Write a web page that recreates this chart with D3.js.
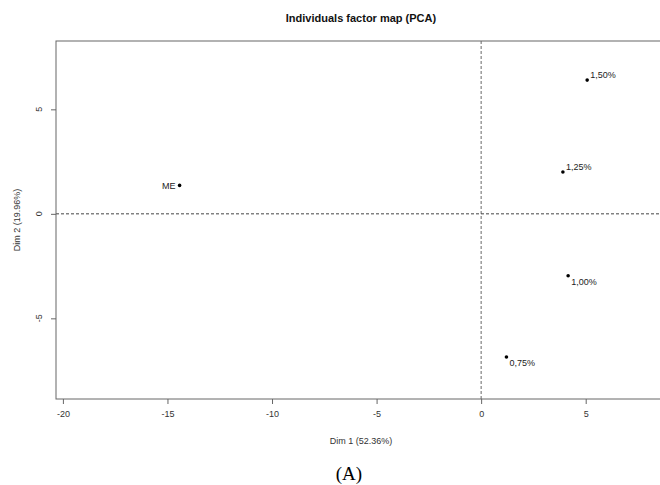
<!DOCTYPE html>
<html>
<head>
<meta charset="utf-8">
<script src="https://cdn.jsdelivr.net/npm/d3@7"></script>
<style>
  body { margin: 0; background: #fff; }
  text { font-family: "Liberation Sans", Arial, sans-serif; }
  text.caption { font-family: "Liberation Serif", "Times New Roman", serif; }
</style>
</head>
<body>
<div id="chart"></div>
<script>
// individuals and their PCA coordinates
var individuals = ["ME", "0,75%", "1,00%", "1,25%", "1,50%"];
var dim1 = [-14.42, 1.21, 4.16, 3.91, 5.07];
var dim2 = [1.36, -6.85, -2.96, 2.0, 6.4];

var xTicks = [-20, -15, -10, -5, 0, 5];
var yTicks = [-5, 0, 5];

var width = 660,
  height = 485;

var margin = { top: 41, right: -6, bottom: 86, left: 56 };

var svg = d3
  .select("#chart")
  .append("svg")
  .attr("width", width)
  .attr("height", height);

// scales (plot box runs off the right edge, like the original)
var x = d3
  .scaleLinear()
  .domain([-20.33, 8.84])
  .range([margin.left, width - margin.right]);
var y = d3
  .scaleLinear()
  .domain([-8.86, 8.27])
  .range([height - margin.bottom, margin.top]);

var plotW = width - margin.right - margin.left,
  plotH = height - margin.bottom - margin.top;

// title
svg
  .append("text")
  .attr("x", margin.left + plotW / 2)
  .attr("y", 22)
  .attr("text-anchor", "middle")
  .attr("font-size", 11)
  .attr("font-weight", "bold")
  .attr("fill", "#111")
  .text("Individuals factor map (PCA)");

// reference lines
svg
  .append("line")
  .attr("x1", x(0))
  .attr("x2", x(0))
  .attr("y1", margin.top)
  .attr("y2", margin.top + plotH)
  .attr("stroke", "#666")
  .attr("stroke-dasharray", "3,2");

svg
  .append("line")
  .attr("x1", margin.left)
  .attr("x2", margin.left + plotW)
  .attr("y1", y(0))
  .attr("y2", y(0))
  .attr("stroke", "#444")
  .attr("stroke-dasharray", "3,2");

// frame
svg
  .append("rect")
  .attr("x", margin.left)
  .attr("y", margin.top)
  .attr("width", plotW)
  .attr("height", plotH)
  .attr("fill", "none")
  .attr("stroke", "#666");

// x axis (plain hyphen for negatives, as in R)
var xAxis = d3
  .axisBottom(x)
  .tickValues(xTicks)
  .tickSize(5)
  .tickPadding(7)
  .tickFormat((d) => String(d));
svg
  .append("g")
  .attr("transform", "translate(0," + (margin.top + plotH) + ")")
  .call(xAxis)
  .call((g) => g.select(".domain").remove())
  .call((g) => g.selectAll(".tick line").attr("stroke", "#666"))
  .call((g) =>
    g
      .selectAll(".tick text")
      .attr("font-size", 9)
      .attr("fill", "#333")
      .attr("font-family", "Liberation Sans, Arial, sans-serif")
  );

// y axis, labels turned parallel to the axis
var yAxis = d3.axisLeft(y).tickValues(yTicks).tickSize(5).tickFormat("");
svg
  .append("g")
  .attr("transform", "translate(" + margin.left + ",0)")
  .call(yAxis)
  .call((g) => g.select(".domain").remove())
  .call((g) => g.selectAll(".tick line").attr("stroke", "#666"));

svg
  .selectAll(".ylab")
  .data(yTicks)
  .join("text")
  .attr("class", "ylab")
  .attr("transform", (d) => "translate(42," + y(d) + ") rotate(-90)")
  .attr("text-anchor", "middle")
  .attr("font-size", 9)
  .attr("fill", "#333")
  .text((d) => String(d));

// axis titles
svg
  .append("text")
  .attr("x", margin.left + plotW / 2)
  .attr("y", 444)
  .attr("text-anchor", "middle")
  .attr("font-size", 9)
  .attr("fill", "#333")
  .text("Dim 1 (52.36%)");

svg
  .append("text")
  .attr(
    "transform",
    "translate(20," + (margin.top + plotH / 2) + ") rotate(-90)"
  )
  .attr("text-anchor", "middle")
  .attr("font-size", 9)
  .attr("fill", "#333")
  .text("Dim 2 (19.96%)");

// points
var points = individuals.map((name, i) => ({ name: name, x: dim1[i], y: dim2[i] }));

svg
  .selectAll("circle.ind")
  .data(points)
  .join("circle")
  .attr("class", "ind")
  .attr("cx", (d) => x(d.x))
  .attr("cy", (d) => y(d.y))
  .attr("r", 1.8)
  .attr("fill", "#000");

// label placement: left of point, above-right or below-right
function labelSide(d) {
  if (d.x < 0) return "left";
  return d.y > 0 ? "up" : "down";
}

svg
  .selectAll("text.indlab")
  .data(points)
  .join("text")
  .attr("class", "indlab")
  .attr("x", (d) => (labelSide(d) == "left" ? x(d.x) - 4 : x(d.x) + 3))
  .attr("y", function (d) {
    var s = labelSide(d);
    if (s == "left") return y(d.y) + 3.3;
    if (s == "up") return y(d.y) - 1.7;
    return y(d.y) + 9.3;
  })
  .attr("text-anchor", (d) => (labelSide(d) == "left" ? "end" : "start"))
  .attr("font-size", 9)
  .attr("fill", "#222")
  .text((d) => d.name);

// figure caption
svg
  .append("text")
  .attr("class", "caption")
  .attr("x", 349)
  .attr("y", 480)
  .attr("text-anchor", "middle")
  .attr("font-size", 19)
  .attr("fill", "#000")
  .text("(A)");
</script>
</body>
</html>
